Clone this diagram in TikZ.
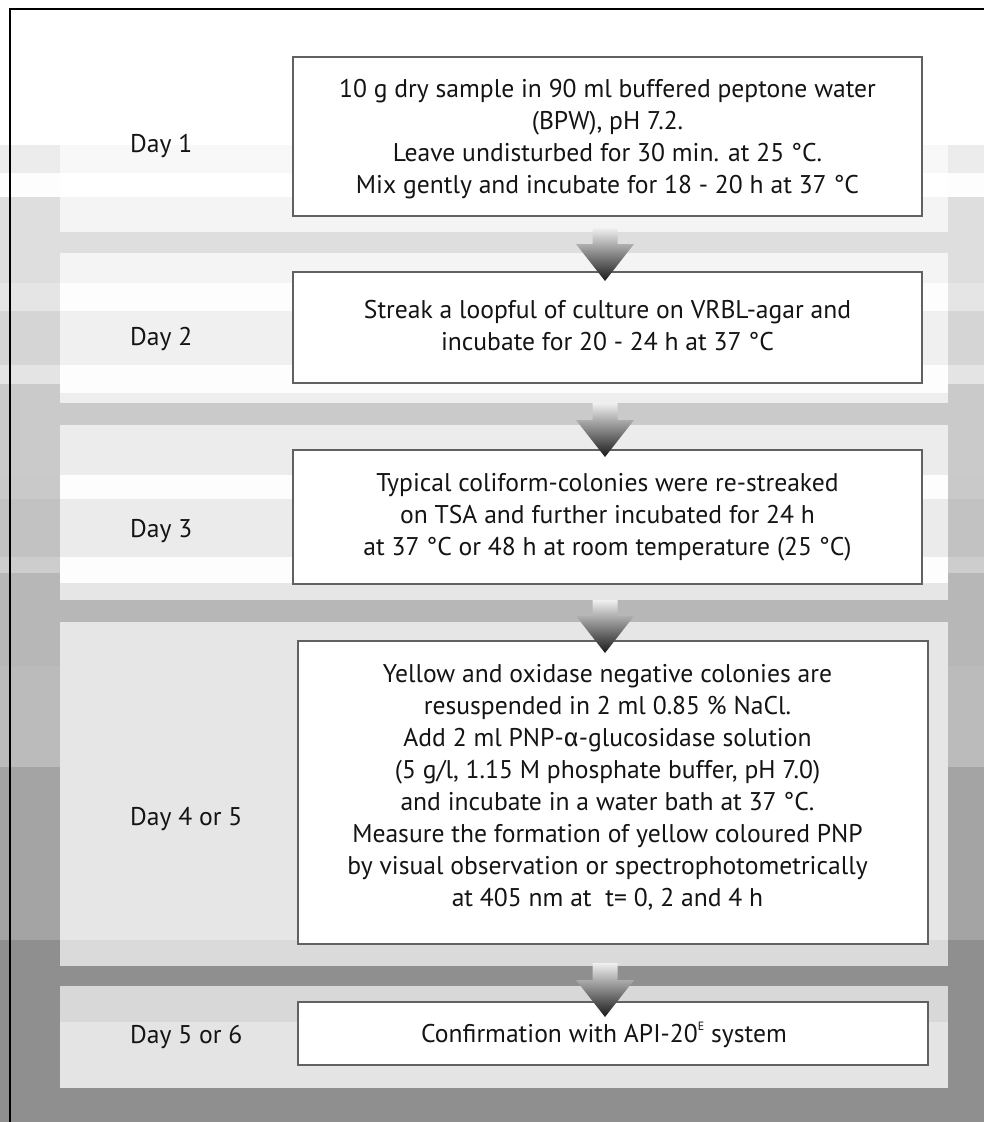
\documentclass[tikz,border=0pt]{standalone}
\usepackage{fontspec}
\setmainfont{PT Sans}
\newfontfamily\greekfont{Fira Sans}
\usetikzlibrary{calc}

% block arrow between a stem-top coordinate and a tip coordinate
\newcommand\blockarrow[2]{%
  \shade[arrowshade]
    ($(#1)+(-12.5,0)$) -- ($(#1)+(12.5,0)$) -- ($(#2)+(12.5,-37)$) --
    ($(#2)+(29,-37)$) -- (#2) -- ($(#2)+(-29,-37)$) --
    ($(#2)+(-12.5,-37)$) -- cycle;}
% small raised letter
\newcommand\smallsup[1]{\raisebox{0.5em}{\fontsize{12}{12}\selectfont #1}}

\begin{document}
\begin{tikzpicture}[x=1pt,y=-1pt,
  stepbox/.style={draw=black!62, line width=1.3pt, fill=white, inner sep=0pt},
  steptext/.style={align=center, font=\fontsize{25.6}{32}\selectfont, text=black!92, inner sep=0pt},
  daylabel/.style={anchor=west, font=\fontsize{25.6}{32}\selectfont, text=black!92, inner sep=0pt},
  arrowshade/.style={top color=black!6, bottom color=black!90}]
\useasboundingbox (0,0) rectangle (984,1122);

% banded grey backdrop
\foreach \ya/\yb/\g in {0/145/255, 145/173/236, 173/197/253, 197/283/222,
    283/311/229, 311/365/213, 365/384/228, 384/475/202, 475/499/201,
    499/557/194, 557/573/205, 573/666/183, 666/767/187, 767/940/164, 940/1122/143}
  {\definecolor{bandc}{RGB}{\g,\g,\g}\fill[bandc] (0,\ya) rectangle (984,\yb);}

% day panels
\foreach \ya/\yb/\g in {145/173/248, 173/197/255, 197/232/244,
    253/283/244, 283/311/253, 311/365/240, 365/393/253, 393/403/238,
    425/475/236, 475/499/253, 499/557/235, 557/583/253, 583/600/230,
    622/940/230, 940/966/218,
    986/1022/216, 1022/1088/228}
  {\definecolor{panelc}{RGB}{\g,\g,\g}\fill[panelc] (60,\ya) rectangle (948,\yb);}

% frame
\draw[line width=2.2pt] (10,1122) -- (10,9) -- (984,9);

% step boxes
\node[stepbox, minimum width=629pt, minimum height=159pt] (b1) at (607.5,136.5) {};
\node[stepbox, minimum width=629pt, minimum height=111pt] (b2) at (607.5,327.5) {};
\node[stepbox, minimum width=629pt, minimum height=134pt] (b3) at (607.5,517) {};
\node[stepbox, minimum width=630pt, minimum height=303pt] (b4) at (613,792.5) {};
\node[stepbox, minimum width=630pt, minimum height=63pt] (b5) at (613,1033.5) {};

% step texts
\node[steptext] (t1) at (607.5,139) {10 g dry sample in 90 ml buffered peptone water\\(BPW), pH 7.2.\\Leave undisturbed for 30 min. at 25 °C.\\Mix gently and incubate for 18 - 20 h at 37 °C};
\node[steptext] (t2) at (607.5,325.5) {Streak a loopful of culture on VRBL-agar and\\incubate for 20 - 24 h at 37 °C};
\node[steptext] (t3) at (607.5,517.5) {Typical coliform-colonies were re-streaked\\on TSA and further incubated for 24 h\\at 37 °C or 48 h at room temperature (25 °C)};
\node[steptext] (t4) at (607.5,787) {Yellow and oxidase negative colonies are\\resuspended in 2 ml 0.85 \% NaCl.\\Add 2 ml PNP-{\greekfont α}-glucosidase solution\\(5 g/l, 1.15 M phosphate buffer, pH 7.0)\\and incubate in a water bath at 37 °C.\\Measure the formation of yellow coloured PNP\\by visual observation or spectrophotometrically\\at 405 nm at~ t= 0, 2 and 4 h};
\node[steptext] (t5) at (604,1035) {Confirmation with API-20\smallsup{E} system};

% day labels
\node[daylabel] (d1) at (130,146) {Day 1};
\node[daylabel] (d2) at (130,339) {Day 2};
\node[daylabel] (d3) at (130,531) {Day 3};
\node[daylabel] (d4) at (130,819) {Day 4 or 5};
\node[daylabel] (d5) at (130,1037) {Day 5 or 6};

% arrows between steps
\coordinate (a1s) at (605,228);  \coordinate (a1t) at (605,281);
\coordinate (a2s) at (605,403);  \coordinate (a2t) at (605,457);
\coordinate (a3s) at (605,600);  \coordinate (a3t) at (605,653);
\coordinate (a4s) at (605,963);  \coordinate (a4t) at (605,1017);
\blockarrow{a1s}{a1t}
\blockarrow{a2s}{a2t}
\blockarrow{a3s}{a3t}
\blockarrow{a4s}{a4t}
\end{tikzpicture}
\end{document}
